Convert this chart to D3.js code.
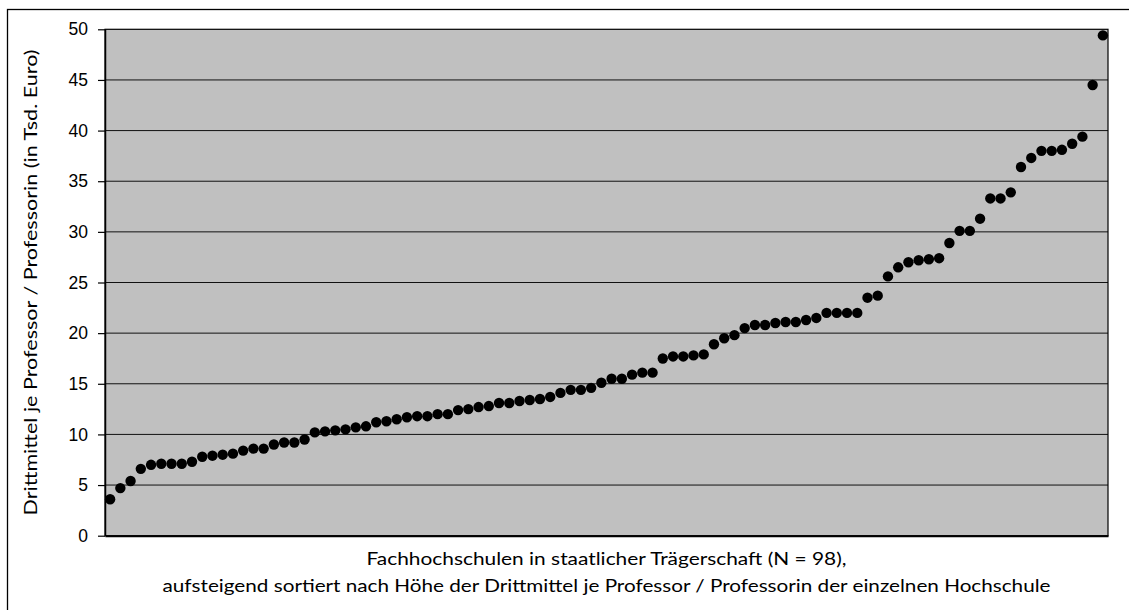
<!DOCTYPE html>
<html>
<head>
<meta charset="utf-8">
<script src="https://cdn.jsdelivr.net/npm/d3@7"></script>
<style>
  html, body { margin: 0; padding: 0; background: #fff; }
  svg { display: block; }
</style>
</head>
<body>
<svg id="chart" width="1129" height="610"></svg>
<script>
// Drittmittel je Professor/in (Tsd. Euro), 98 Fachhochschulen, aufsteigend sortiert
const values = [
  3.6, 4.7, 5.4, 6.6, 7.0, 7.1, 7.1, 7.1, 7.3, 7.8,
  7.9, 8.0, 8.1, 8.4, 8.6, 8.6, 9.0, 9.2, 9.2, 9.5,
  10.2, 10.3, 10.4, 10.5, 10.7, 10.8, 11.2, 11.3, 11.5, 11.7,
  11.8, 11.8, 12.0, 12.0, 12.4, 12.5, 12.7, 12.8, 13.1, 13.1,
  13.3, 13.4, 13.5, 13.7, 14.1, 14.4, 14.4, 14.6, 15.1, 15.5,
  15.5, 15.9, 16.1, 16.1, 17.5, 17.7, 17.7, 17.8, 17.9, 18.9,
  19.5, 19.8, 20.5, 20.8, 20.8, 21.0, 21.1, 21.1, 21.3, 21.5,
  22.0, 22.0, 22.0, 22.0, 23.5, 23.7, 25.6, 26.5, 27.0, 27.2,
  27.3, 27.4, 28.9, 30.1, 30.1, 31.3, 33.3, 33.3, 33.9, 36.4,
  37.3, 38.0, 38.0, 38.1, 38.7, 39.4, 44.5, 49.4
];
const categories = values.map((v, i) => i + 1);
const yTicks = [0, 5, 10, 15, 20, 25, 30, 35, 40, 45, 50];
const yTitle = "Drittmittel je Professor / Professorin (in Tsd. Euro)";
const xTitleLines = [
  "Fachhochschulen in staatlicher Trägerschaft (N = 98),",
  "aufsteigend sortiert nach Höhe der Drittmittel je Professor / Professorin der einzelnen Hochschule"
];

const svg = d3.select("#chart");
const plot = { left: 105, right: 1108, top: 29.3, bottom: 535.7 };

// outer frame (cropped at right/bottom)
svg.append("rect")
  .attr("x", 7.5).attr("y", 9.5)
  .attr("width", 1200).attr("height", 700)
  .attr("fill", "#fff").attr("stroke", "#000").attr("stroke-width", 1.3);

const x = d3.scaleBand().domain(categories).range([plot.left, plot.right]).padding(0);
const y = d3.scaleLinear().domain([0, 50]).range([plot.bottom, plot.top]);

// plot background
svg.append("rect")
  .attr("x", plot.left).attr("y", plot.top)
  .attr("width", plot.right - plot.left).attr("height", plot.bottom - plot.top)
  .attr("fill", "#c0c0c0");

// gridlines
svg.append("g").selectAll("line").data(yTicks.filter(t => t > 0 && t < 50)).join("line")
  .attr("x1", plot.left).attr("x2", plot.right)
  .attr("y1", d => y(d)).attr("y2", d => y(d))
  .attr("stroke", "#111").attr("stroke-width", 1);

// plot border
svg.append("rect")
  .attr("x", plot.left).attr("y", plot.top)
  .attr("width", plot.right - plot.left).attr("height", plot.bottom - plot.top)
  .attr("fill", "none").attr("stroke", "#000").attr("stroke-width", 1.2);

// y axis
const yAxis = d3.axisLeft(y).tickValues(yTicks).tickSize(7).tickPadding(10).tickSizeOuter(0);
const gy = svg.append("g").attr("transform", `translate(${plot.left},0)`).call(yAxis);
gy.select(".domain").attr("stroke", "#000").attr("stroke-width", 1.5);
gy.selectAll(".tick line").attr("stroke", "#000").attr("stroke-width", 1.2);
gy.selectAll(".tick text")
  .attr("font-family", "'Liberation Sans', Arial, sans-serif")
  .attr("font-size", 17.5).attr("fill", "#000");

// x axis baseline
const xAxis = d3.axisBottom(x).tickValues([]).tickSizeOuter(0);
const gx = svg.append("g").attr("transform", `translate(0,${plot.bottom})`).call(xAxis);
gx.select(".domain").attr("stroke", "#000").attr("stroke-width", 2);

// dots
svg.append("g").selectAll("circle").data(values).join("circle")
  .attr("cx", (d, i) => x(categories[i]) + x.bandwidth() / 2)
  .attr("cy", d => y(d))
  .attr("r", 5.2)
  .attr("fill", "#000");

// titles
const titleFont = "Lato, 'Noto Sans', sans-serif";
const cx = (plot.left + plot.right) / 2;
const xt = svg.append("g");
xt.append("text").attr("x", cx).attr("y", 565).attr("text-anchor", "middle")
  .attr("font-family", titleFont).attr("font-size", 18).attr("fill", "#000")
  .attr("textLength", 480).attr("lengthAdjust", "spacingAndGlyphs")
  .text(xTitleLines[0]);
xt.append("text").attr("x", cx).attr("y", 592).attr("text-anchor", "middle")
  .attr("font-family", titleFont).attr("font-size", 18).attr("fill", "#000")
  .attr("textLength", 888).attr("lengthAdjust", "spacingAndGlyphs")
  .text(xTitleLines[1]);

svg.append("text")
  .attr("transform", `translate(37,${(plot.top + plot.bottom) / 2}) rotate(-90)`)
  .attr("text-anchor", "middle")
  .attr("font-family", titleFont).attr("font-size", 18).attr("fill", "#000")
  .attr("textLength", 466).attr("lengthAdjust", "spacingAndGlyphs")
  .text(yTitle);
</script>
</body>
</html>
